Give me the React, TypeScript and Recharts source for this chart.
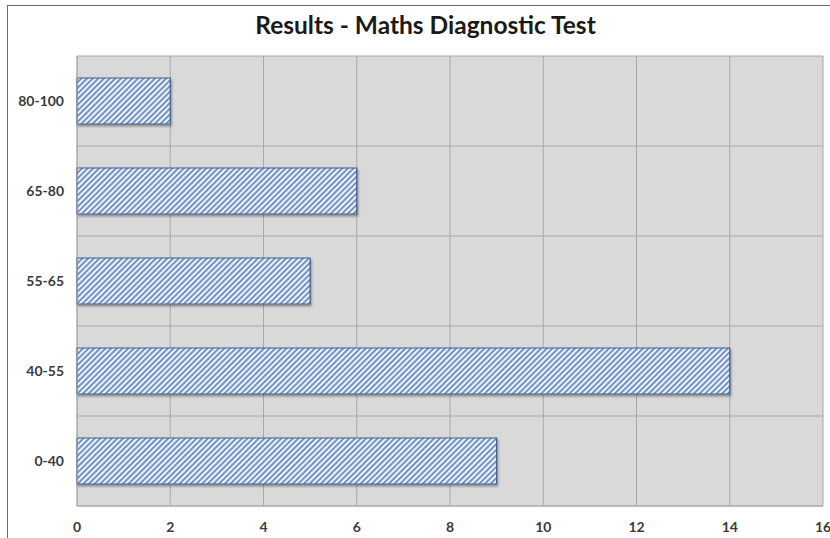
import { BarChart, Bar, XAxis, YAxis, CartesianGrid } from 'recharts';

const bands = ['80-100', '65-80', '55-65', '40-55', '0-40'];
const counts = [2, 6, 5, 14, 9];
const xTicks = [0, 2, 4, 6, 8, 10, 12, 14, 16];

const data = bands.map((band, i) => ({ band, count: counts[i] }));

const FONT = 'Lato, "Open Sans", sans-serif';

// horizontal grid lines sit on the category boundaries, not the centres
const bandBoundaries = ({ offset }: any) =>
  Array.from({ length: bands.length + 1 }, (_, i) => offset.top + (i * offset.height) / bands.length);

export default function App() {
  return (
    <div style={{ position: 'absolute', left: 0, top: 0, width: 830, height: 538, background: '#fff', overflow: 'hidden' }}>
      <div
        style={{
          position: 'absolute',
          left: 7,
          top: 5,
          width: 840,
          height: 560,
          borderLeft: '1px solid #6e6e6e',
          borderTop: '1px solid #6e6e6e',
        }}
      />
      <div
        style={{
          position: 'absolute',
          left: 14,
          width: 823,
          top: 10,
          textAlign: 'center',
          fontFamily: FONT,
          fontWeight: 700,
          fontSize: 24.5,
          color: '#1a1a1a',
        }}
      >
        Results - Maths Diagnostic Test
      </div>
      <BarChart
        width={830}
        height={538}
        data={data}
        layout="vertical"
        margin={{ top: 56, right: 7, left: 0, bottom: 0 }}
        style={{ position: 'absolute', left: 0, top: 0 }}
      >
        <defs>
          <pattern id="hatch" patternUnits="userSpaceOnUse" width={4} height={4} patternTransform="rotate(45)">
            <rect x={0} y={0} width={4} height={4} fill="#eef2f9" />
            <rect x={0} y={0} width={2} height={4} fill="#7393c8" />
          </pattern>
          <filter id="shadow" x="-5%" y="-20%" width="110%" height="150%">
            <feDropShadow dx={1} dy={2} stdDeviation={1} floodColor="#000" floodOpacity={0.35} />
          </filter>
        </defs>
        <CartesianGrid
          fill="#d9d9d9"
          stroke="#a8a8a8"
          horizontalCoordinatesGenerator={bandBoundaries}
        />
        <XAxis
          type="number"
          domain={[0, 16]}
          ticks={xTicks}
          interval={0}
          height={32}
          axisLine={{ stroke: '#a8a8a8' }}
          tickLine={false}
          tickSize={4}
          tickMargin={12}
          tick={{ fontSize: 14, fontWeight: 700, fill: '#3a3a3a', fontFamily: FONT }}
        />
        <YAxis
          type="category"
          dataKey="band"
          width={77}
          axisLine={{ stroke: '#a8a8a8' }}
          tickLine={false}
          tickSize={6}
          tickMargin={7}
          tick={{ fontSize: 14, fontWeight: 700, fill: '#3a3a3a', fontFamily: FONT }}
        />
        <Bar
          dataKey="count"
          barSize={46}
          fill="url(#hatch)"
          stroke="#41608a"
          strokeWidth={1.2}
          filter="url(#shadow)"
          isAnimationActive={false}
        />
      </BarChart>
    </div>
  );
}
